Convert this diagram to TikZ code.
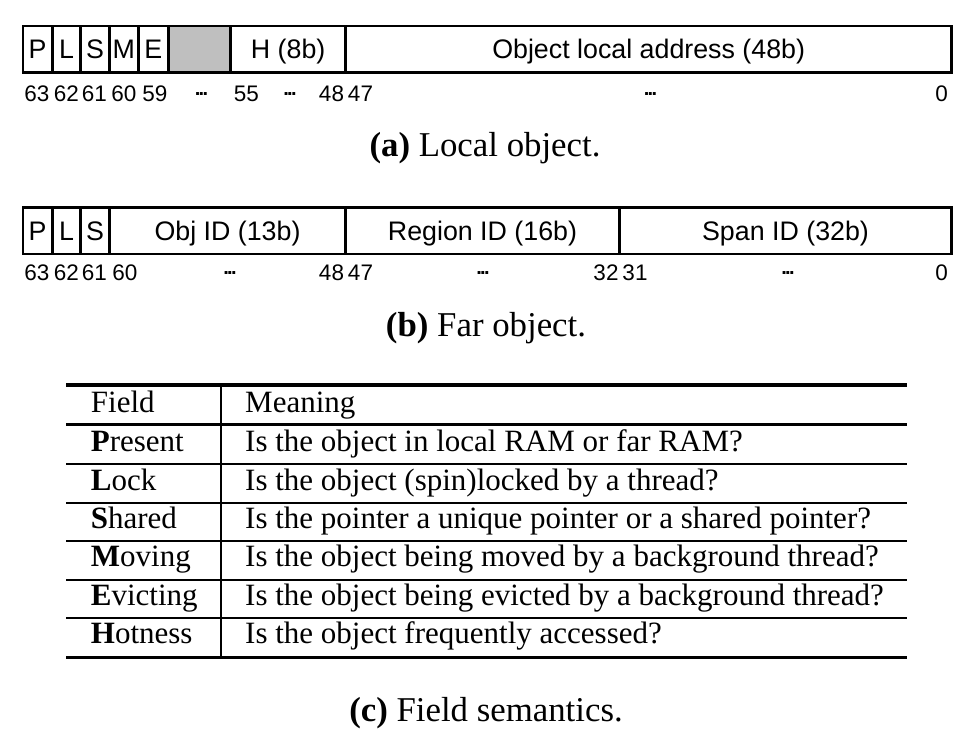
\documentclass[tikz,border=0pt]{standalone}
\usepackage{fontspec}
\setmainfont{Liberation Serif}
\setsansfont{Liberation Sans}
\definecolor{rsvgray}{RGB}{191,191,191}
\tikzset{
  field/.style={draw, line width=2.7pt, inner sep=0pt, outer sep=0pt,
    font=\sffamily\fontsize{26.8}{26.8}\selectfont, text height=19pt, text depth=0pt},
  bitlbl/.style={font=\sffamily\fontsize{22.5}{22.5}\selectfont, anchor=base, inner sep=0pt},
  dotslbl/.style={font=\sffamily\bfseries\fontsize{20}{20}\selectfont, anchor=base, inner sep=0pt},
  caption/.style={font=\fontsize{34.8}{34.8}\selectfont, anchor=base, inner sep=0pt},
  cell/.style={font=\fontsize{31}{31}\selectfont, anchor=base west, inner sep=0pt},
  thickrule/.style={line width=3.4pt},
  midrule/.style={line width=2.9pt},
  thinrule/.style={line width=2.2pt}
}
\newcommand{\fld}[7]{\node[field, minimum width={#3-#2}, minimum height=#5, #6] (#1) at ({(#2+#3)/2},#4) {#7};}
\newcommand{\tdots}{.\kern-1.6pt.\kern-1.6pt.}
\begin{document}
\begin{tikzpicture}[x=1pt,y=-1pt]
\useasboundingbox (0,0) rectangle (956,735);
% (a) local object
\fld{aP}{23}{52.3}{49.3}{46.7}{}{P}
\fld{aL}{52.3}{80.7}{49.3}{46.7}{}{L}
\fld{aS}{80.7}{109.3}{49.3}{46.7}{}{S}
\fld{aM}{109.3}{138.3}{49.3}{46.7}{}{M}
\fld{aE}{138.3}{168.3}{49.3}{46.7}{}{E}
\fld{aG}{168.3}{230.7}{49.3}{46.7}{fill=rsvgray}{}
\fld{aH}{230.7}{345.7}{49.3}{46.7}{}{H (8b)}
\fld{aO}{345.7}{951.7}{49.3}{46.7}{}{Object local address (48b)}
\node[bitlbl] (a63) at (37,101.7) {63};
\node[bitlbl] (a62) at (66.5,101.7) {62};
\node[bitlbl] (a61) at (94.5,101.7) {61};
\node[bitlbl] (a60) at (124,101.7) {60};
\node[bitlbl] (a59) at (155,101.7) {59};
\node[dotslbl] (ad1) at (201.5,95.5) {\tdots};
\node[bitlbl] (a55) at (246.5,101.7) {55};
\node[dotslbl] (ad2) at (290,95.5) {\tdots};
\node[bitlbl] (a48) at (331.5,101.7) {48};
\node[bitlbl] (a47) at (360.5,101.7) {47};
\node[dotslbl] (ad3) at (650.5,95.5) {\tdots};
\node[bitlbl] (a0) at (941.5,101.7) {0};
\node[caption] (capa) at (485,156.7) {\textbf{(a)} Local object.};
% (b) far object
\fld{bP}{23}{52.3}{230.7}{46.7}{}{P}
\fld{bL}{52.3}{80.7}{230.7}{46.7}{}{L}
\fld{bS}{80.7}{109.3}{230.7}{46.7}{}{S}
\fld{bO}{109.3}{345.7}{230.7}{46.7}{}{Obj ID (13b)}
\fld{bR}{345.7}{619.3}{230.7}{46.7}{}{Region ID (16b)}
\fld{bSp}{619.3}{951.7}{230.7}{46.7}{}{Span ID (32b)}
\node[bitlbl] (b63) at (37,280.7) {63};
\node[bitlbl] (b62) at (66.5,280.7) {62};
\node[bitlbl] (b61) at (94.5,280.7) {61};
\node[bitlbl] (b60) at (125,280.7) {60};
\node[dotslbl] (bd1) at (230,274.5) {\tdots};
\node[bitlbl] (b48) at (331.5,280.7) {48};
\node[bitlbl] (b47) at (360.5,280.7) {47};
\node[dotslbl] (bd2) at (483,274.5) {\tdots};
\node[bitlbl] (b32) at (606,280.7) {32};
\node[bitlbl] (b31) at (635,280.7) {31};
\node[dotslbl] (bd3) at (788,274.5) {\tdots};
\node[bitlbl] (b0) at (941.5,280.7) {0};
\node[caption] (capb) at (486,337) {\textbf{(b)} Far object.};
% (c) table
\draw[thickrule] (66,385) -- (906.7,385);
\draw[midrule] (66,424.3) -- (906.7,424.3);
\foreach \yy in {464.3,502.7,541.3,580,618.3}
  \draw[thinrule] (66,\yy) -- (906.7,\yy);
\draw[thickrule] (66,657.3) -- (906.7,657.3);
\draw[thinrule] (220.7,385) -- (220.7,657.3);
\node[cell] (hf) at (90.7,412.7) {Field};
\node[cell] (hm) at (245,412.7) {Meaning};
\node[cell] (f1) at (90.7,451.7) {\textbf{P}resent};
\node[cell] (m1) at (245,451.7) {Is the object in local RAM or far RAM?};
\node[cell] (f2) at (90.7,490) {\textbf{L}ock};
\node[cell] (m2) at (245,490) {Is the object (spin)locked by a thread?};
\node[cell] (f3) at (90.7,528.3) {\textbf{S}hared};
\node[cell] (m3) at (245,528.3) {Is the pointer a unique pointer or a shared pointer?};
\node[cell] (f4) at (90.7,566.7) {\textbf{M}oving};
\node[cell] (m4) at (245,566.7) {Is the object being moved by a background thread?};
\node[cell] (f5) at (90.7,605) {\textbf{E}victing};
\node[cell] (m5) at (245,605) {Is the object being evicted by a background thread?};
\node[cell] (f6) at (90.7,643.3) {\textbf{H}otness};
\node[cell] (m6) at (245,643.3) {Is the object frequently accessed?};
\node[caption] (capc) at (486,721.7) {\textbf{(c)} Field semantics.};
\end{tikzpicture}
\end{document}
